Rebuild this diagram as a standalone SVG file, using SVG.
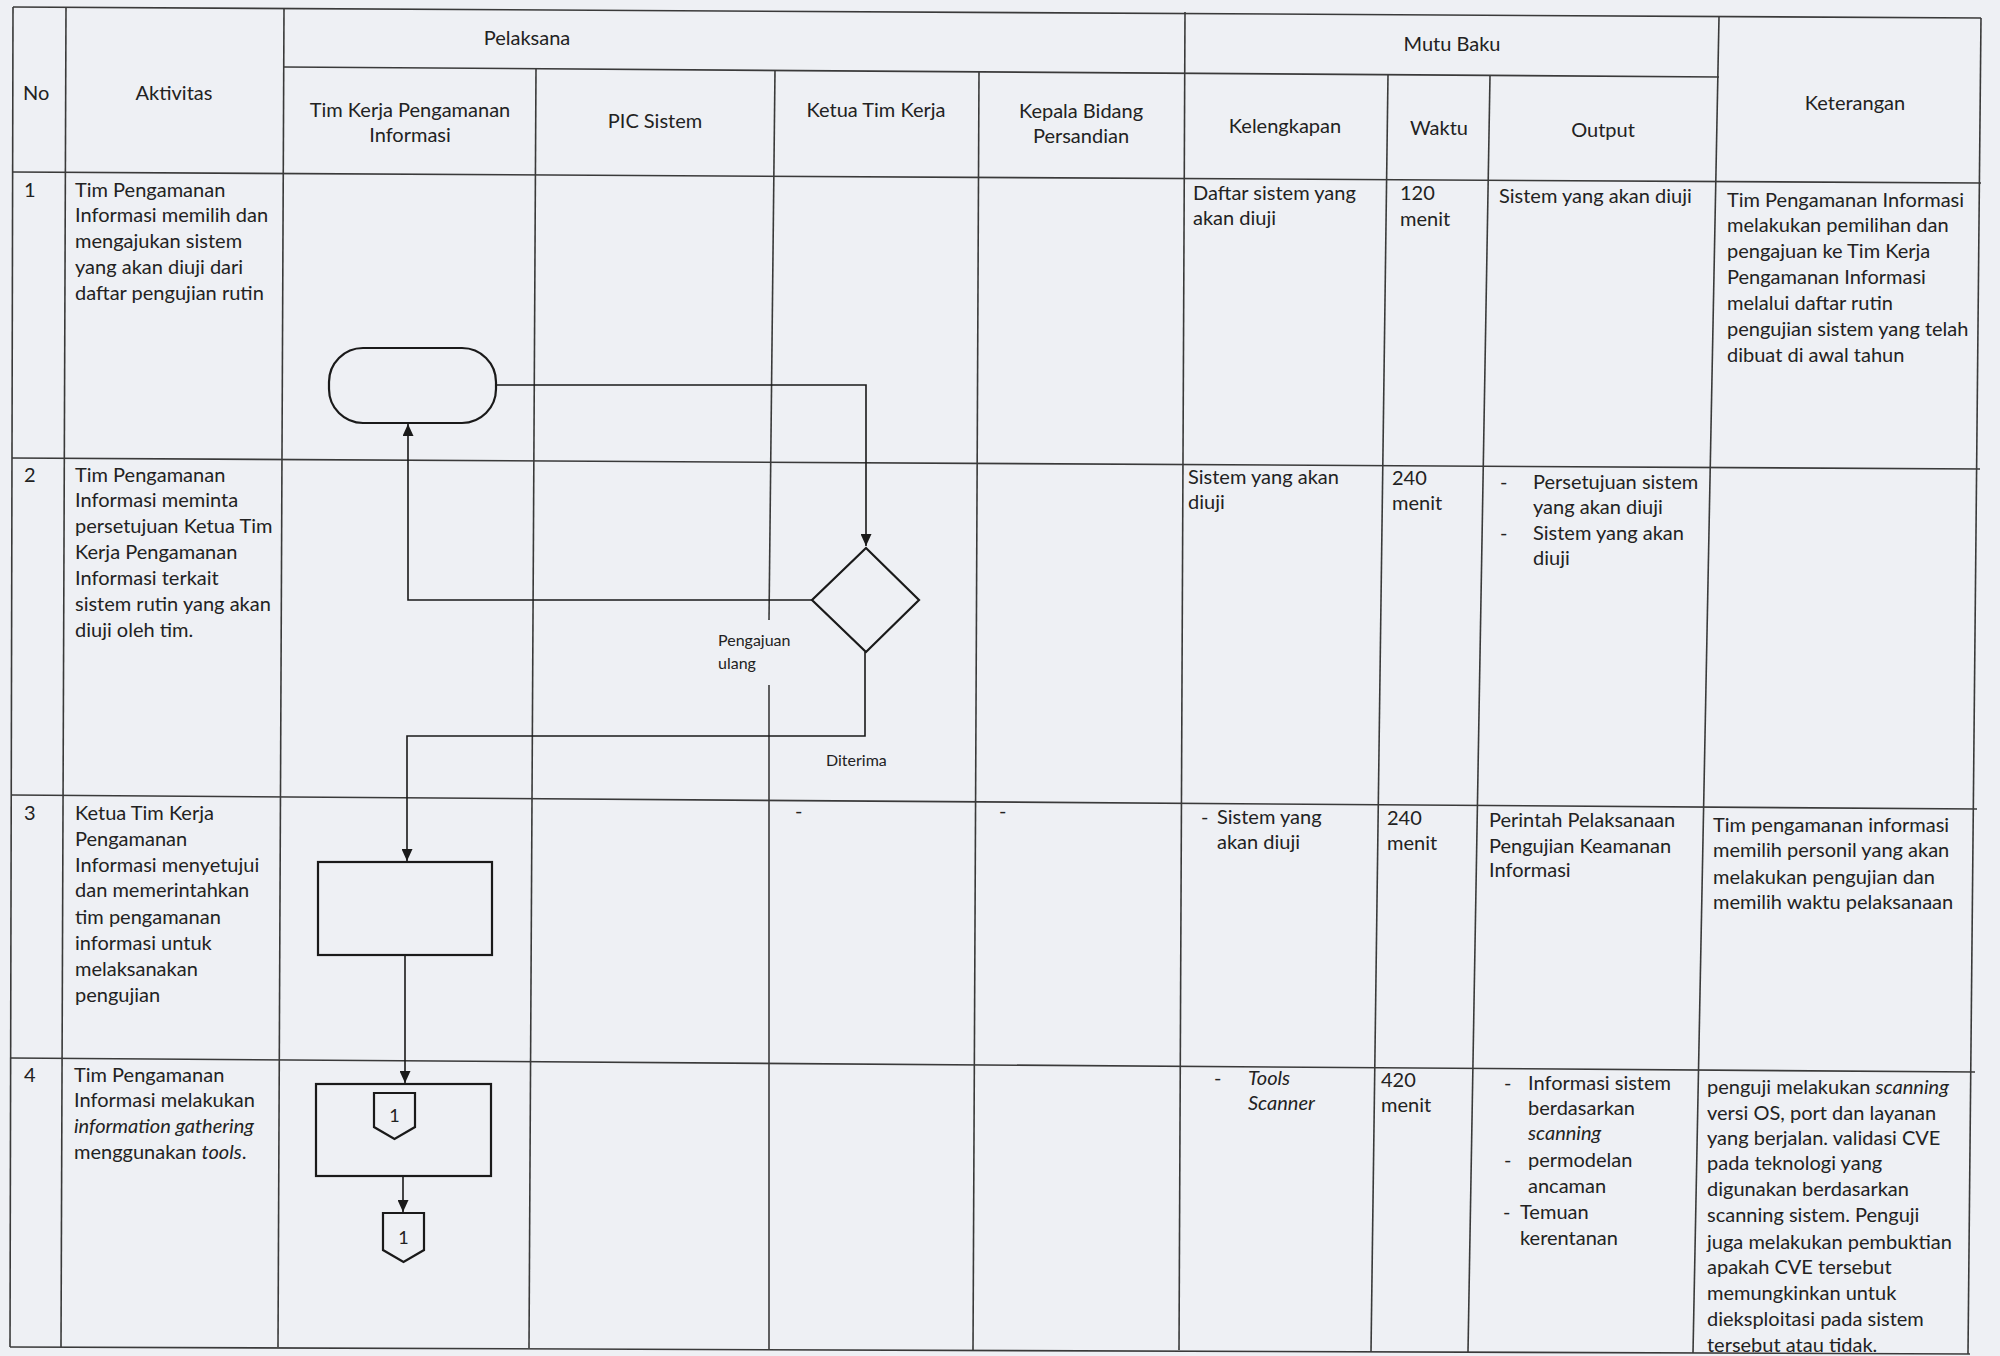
<svg xmlns="http://www.w3.org/2000/svg" width="2000" height="1356" viewBox="0 0 2000 1356">
<defs>
<style>
text{font-family:Lato,"Liberation Sans",sans-serif;font-size:20px;fill:#222222}
.c{text-anchor:middle}
.s{font-size:16px}
.n{font-size:18px}
.i{font-style:italic}
.tbl line{stroke:#3a3a3a;stroke-width:1.6}
.shp{fill:none;stroke:#1a1a1a;stroke-width:2.2}
.con{fill:none;stroke:#1a1a1a;stroke-width:1.6}
</style>
<marker id="arr" viewBox="0 0 12 11" refX="12" refY="5.5" markerWidth="12" markerHeight="11" markerUnits="userSpaceOnUse" orient="auto">
<path d="M0,0 L12,5.5 L0,11 z" fill="#1a1a1a"/>
</marker>
</defs>
<rect x="0" y="0" width="2000" height="1356" fill="#eef0f4"/>

<g id="table" class="tbl">
<line x1="13" y1="7" x2="1981" y2="18"/>
<line x1="284" y1="67" x2="1719" y2="77"/>
<line x1="13" y1="172" x2="1981" y2="183"/>
<line x1="12" y1="458" x2="1980" y2="469"/>
<line x1="12" y1="795" x2="1977" y2="809"/>
<line x1="11" y1="1058" x2="1975" y2="1072"/>
<line x1="10" y1="1347" x2="1970" y2="1354"/>
<line x1="13" y1="7" x2="10" y2="1347"/>
<line x1="66" y1="7" x2="61" y2="1347"/>
<line x1="284" y1="8" x2="278" y2="1347"/>
<line x1="536" y1="69" x2="529" y2="1348"/>
<line x1="775" y1="70" x2="769" y2="620"/>
<line x1="769" y1="685" x2="769" y2="1349"/>
<line x1="979" y1="72" x2="973" y2="1350"/>
<line x1="1185" y1="12" x2="1179" y2="1350"/>
<line x1="1388" y1="75" x2="1371" y2="1352"/>
<line x1="1490" y1="76" x2="1468" y2="1352"/>
<line x1="1719" y1="17" x2="1693" y2="1353"/>
<line x1="1981" y1="18" x2="1968" y2="1354"/>
</g>

<g id="header">
<text x="23" y="100">No</text>
<text class="c" x="174" y="100">Aktivitas</text>
<text class="c" x="527" y="45">Pelaksana</text>
<text class="c" x="1452" y="51">Mutu Baku</text>
<text class="c" x="410" y="117">Tim Kerja Pengamanan</text>
<text class="c" x="410" y="142">Informasi</text>
<text class="c" x="655" y="128">PIC Sistem</text>
<text class="c" x="876" y="117">Ketua Tim Kerja</text>
<text class="c" x="1081" y="118">Kepala Bidang</text>
<text class="c" x="1081" y="143">Persandian</text>
<text class="c" x="1285" y="133">Kelengkapan</text>
<text class="c" x="1439" y="135">Waktu</text>
<text class="c" x="1603" y="137">Output</text>
<text class="c" x="1855" y="110">Keterangan</text>
</g>

<g id="row1">
<text x="24" y="197">1</text>
<text x="75" y="197">Tim Pengamanan</text>
<text x="75" y="222">Informasi memilih dan</text>
<text x="75" y="248">mengajukan sistem</text>
<text x="75" y="274">yang akan diuji dari</text>
<text x="75" y="300">daftar pengujian rutin</text>
<text x="1193" y="200">Daftar sistem yang</text>
<text x="1193" y="225">akan diuji</text>
<text x="1400" y="200">120</text>
<text x="1400" y="226">menit</text>
<text x="1499" y="203">Sistem yang akan diuji</text>
<text x="1727" y="207">Tim Pengamanan Informasi</text>
<text x="1727" y="232">melakukan pemilihan dan</text>
<text x="1727" y="258">pengajuan ke Tim Kerja</text>
<text x="1727" y="284">Pengamanan Informasi</text>
<text x="1727" y="310">melalui daftar rutin</text>
<text x="1727" y="336">pengujian sistem yang telah</text>
<text x="1727" y="362">dibuat di awal tahun</text>
</g>

<g id="row2">
<text x="24" y="482">2</text>
<text x="75" y="482">Tim Pengamanan</text>
<text x="75" y="507">Informasi meminta</text>
<text x="75" y="533">persetujuan Ketua Tim</text>
<text x="75" y="559">Kerja Pengamanan</text>
<text x="75" y="585">Informasi terkait</text>
<text x="75" y="611">sistem rutin yang akan</text>
<text x="75" y="637">diuji oleh tim.</text>
<text x="1188" y="484">Sistem yang akan</text>
<text x="1188" y="509">diuji</text>
<text x="1392" y="485">240</text>
<text x="1392" y="510">menit</text>
<text x="1500" y="489">-</text>
<text x="1533" y="489">Persetujuan sistem</text>
<text x="1533" y="514">yang akan diuji</text>
<text x="1500" y="540">-</text>
<text x="1533" y="540">Sistem yang akan</text>
<text x="1533" y="565">diuji</text>
</g>

<g id="row3">
<text x="24" y="820">3</text>
<text x="75" y="820">Ketua Tim Kerja</text>
<text x="75" y="846">Pengamanan</text>
<text x="75" y="872">Informasi menyetujui</text>
<text x="75" y="897">dan memerintahkan</text>
<text x="75" y="924">tim pengamanan</text>
<text x="75" y="950">informasi untuk</text>
<text x="75" y="976">melaksanakan</text>
<text x="75" y="1002">pengujian</text>
<text x="795" y="818">-</text>
<text x="999" y="818">-</text>
<text x="1201" y="824">-</text>
<text x="1217" y="824">Sistem yang</text>
<text x="1217" y="849">akan diuji</text>
<text x="1387" y="825">240</text>
<text x="1387" y="850">menit</text>
<text x="1489" y="827">Perintah Pelaksanaan</text>
<text x="1489" y="853">Pengujian Keamanan</text>
<text x="1489" y="877">Informasi</text>
<text x="1713" y="832">Tim pengamanan informasi</text>
<text x="1713" y="857">memilih personil yang akan</text>
<text x="1713" y="884">melakukan pengujian dan</text>
<text x="1713" y="909">memilih waktu pelaksanaan</text>
</g>

<g id="row4">
<text x="24" y="1082">4</text>
<text x="74" y="1082">Tim Pengamanan</text>
<text x="74" y="1107">Informasi melakukan</text>
<text x="74" y="1133" class="i">information gathering</text>
<text x="74" y="1159">menggunakan <tspan class="i">tools</tspan>.</text>
<text x="1214" y="1085">-</text>
<text x="1248" y="1085" class="i">Tools</text>
<text x="1248" y="1110" class="i">Scanner</text>
<text x="1381" y="1087">420</text>
<text x="1381" y="1112">menit</text>
<text x="1504" y="1090">-</text>
<text x="1528" y="1090">Informasi sistem</text>
<text x="1528" y="1115">berdasarkan</text>
<text x="1528" y="1140" class="i">scanning</text>
<text x="1504" y="1167">-</text>
<text x="1528" y="1167">permodelan</text>
<text x="1528" y="1193">ancaman</text>
<text x="1503" y="1219">-</text>
<text x="1520" y="1219">Temuan</text>
<text x="1520" y="1245">kerentanan</text>
<text x="1707" y="1094">penguji melakukan <tspan class="i">scanning</tspan></text>
<text x="1707" y="1120">versi OS, port dan layanan</text>
<text x="1707" y="1145">yang berjalan. validasi CVE</text>
<text x="1707" y="1170">pada teknologi yang</text>
<text x="1707" y="1196">digunakan berdasarkan</text>
<text x="1707" y="1222">scanning sistem. Penguji</text>
<text x="1707" y="1249">juga melakukan pembuktian</text>
<text x="1707" y="1274">apakah CVE tersebut</text>
<text x="1707" y="1300">memungkinkan untuk</text>
<text x="1707" y="1326">dieksploitasi pada sistem</text>
<text x="1707" y="1352">tersebut atau tidak.</text>
</g>

<g id="connectors">
<polyline class="con" points="496,385 866,385 866,546" marker-end="url(#arr)"/>
<polyline class="con" points="812,600 408,600 408,424" marker-end="url(#arr)"/>
<polyline class="con" points="865,652 865,736 407,736 407,861" marker-end="url(#arr)"/>
<line class="con" x1="405" y1="955" x2="405" y2="1083" marker-end="url(#arr)"/>
<line class="con" x1="403" y1="1176" x2="403" y2="1212" marker-end="url(#arr)"/>
<text class="s" x="718" y="646">Pengajuan</text>
<text class="s" x="718" y="669">ulang</text>
<text class="s" x="826" y="766">Diterima</text>
</g>

<g id="node-start">
<rect class="shp" x="329" y="348" width="167" height="75" rx="34" ry="34"/>
</g>
<g id="node-decision">
<polygon class="shp" points="866,548 919,600 866,652 812,600"/>
</g>
<g id="node-approve">
<rect class="shp" x="318" y="862" width="174" height="93"/>
</g>
<g id="node-gathering">
<rect class="shp" x="316" y="1084" width="175" height="92"/>
<polygon class="shp" points="374,1093 415,1093 415,1127 394.5,1139 374,1127"/>
<text class="c n" x="394.5" y="1122">1</text>
</g>
<g id="node-offpage">
<polygon class="shp" points="383,1213 424,1213 424,1250 403.5,1262 383,1250"/>
<text class="c n" x="403.5" y="1244">1</text>
</g>
</svg>
